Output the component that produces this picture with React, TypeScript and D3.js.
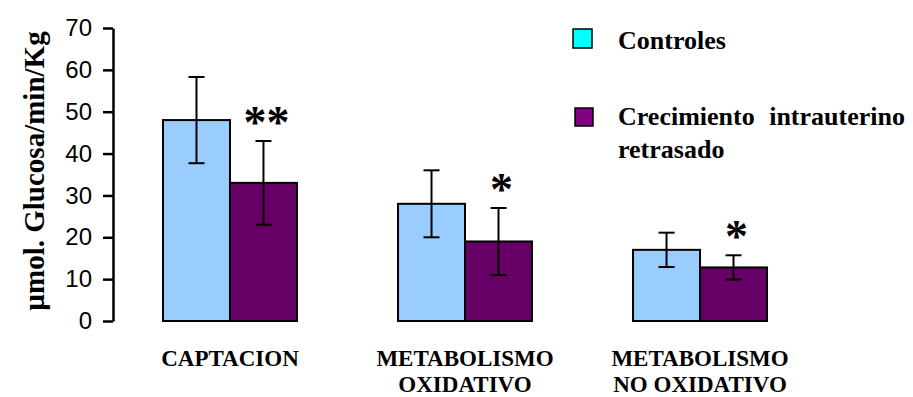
import React, { useEffect, useRef } from 'react';
import * as d3 from 'd3';

// datos
const categorias = ['CAPTACION', 'METABOLISMO OXIDATIVO', 'METABOLISMO NO OXIDATIVO'];
const etiquetas = [['CAPTACION'], ['METABOLISMO', 'OXIDATIVO'], ['METABOLISMO', 'NO OXIDATIVO']];
const series = ['Controles', 'Crecimiento intrauterino retrasado'];
const controles = [48, 28, 17];
const controlesErr = [10.3, 8, 4.1];
const retrasado = [33, 19, 12.8];
const retrasadoErr = [10, 8, 2.9];
const significancia = ['**', '*', '*'];
const yTicks = [0, 10, 20, 30, 40, 50, 60, 70];

const W = 913;
const H = 397;
const serif = 'Liberation Serif, Tinos, DejaVu Serif, serif';
const sans = 'Liberation Sans, Arimo, Arial, sans-serif';

const App = () => {
  const axisRef = useRef<SVGGElement>(null);

  const y = d3.scaleLinear().domain([0, 70]).range([321, 28]);
  const x0 = d3.scaleBand<string>()
    .domain(categorias)
    .range([114, 816])
    .paddingInner(0.43)
    .paddingOuter(0.2085);
  const x1 = d3.scaleBand<string>().domain(series).range([0, x0.bandwidth()]).padding(0);
  const fills = ['#99CCFF', '#660066'];

  useEffect(() => {
    const g = d3.select(axisRef.current);
    g.selectAll('*').remove();
    g.call(d3.axisLeft(y).tickValues(yTicks).tickSize(10).tickSizeOuter(0).tickPadding(11));
    g.select('.domain').attr('stroke', '#000').attr('stroke-width', 2.5);
    g.selectAll('.tick line').attr('stroke', '#000').attr('stroke-width', 2.5);
    g.selectAll('.tick text')
      .attr('font-family', sans)
      .attr('font-size', 24)
      .attr('fill', '#000');
  }, []);

  const valores = [controles, retrasado];
  const errores = [controlesErr, retrasadoErr];

  return (
    <svg width={W} height={H} style={{ position: 'absolute', left: 0, top: 0, background: '#fff' }}>
      <rect x={0} y={0} width={W} height={H} fill="#fff" />
      {/* barras */}
      {categorias.map((c, i) => (
        <g key={c} transform={`translate(${x0(c)},0)`}>
          {series.map((s, j) => {
            const v = valores[j][i];
            const e = errores[j][i];
            const bx = x1(s)!;
            const cx = bx + x1.bandwidth() / 2;
            return (
              <g key={s}>
                <rect x={bx} y={y(v)} width={x1.bandwidth()} height={y(0) - y(v)}
                  fill={fills[j]} stroke="#000" strokeWidth={2} />
                <line x1={cx} x2={cx} y1={y(v + e)} y2={y(v - e)} stroke="#000" strokeWidth={2} />
                <line x1={cx - 8} x2={cx + 8} y1={y(v + e)} y2={y(v + e)} stroke="#000" strokeWidth={2} />
                <line x1={cx - 8} x2={cx + 8} y1={y(v - e)} y2={y(v - e)} stroke="#000" strokeWidth={2} />
                {j === 1 && (
                  <text x={cx + 3} y={y(v + e) - 3} textAnchor="middle" fontFamily={serif}
                    fontWeight="bold" fontSize={46}>{significancia[i]}</text>
                )}
              </g>
            );
          })}
          {etiquetas[i].map((t, k) => (
            <text key={t} x={x0.bandwidth() / 2} y={366 + k * 26} textAnchor="middle"
              fontFamily={serif} fontWeight="bold" fontSize={23}>{t}</text>
          ))}
        </g>
      ))}
      {/* eje y */}
      <g ref={axisRef} transform="translate(113,0)" />
      <text transform="translate(44,171) rotate(-90)" textAnchor="middle" fontFamily={serif}
        fontWeight="bold" fontSize={29}>µmol. Glucosa/min/Kg</text>
      {/* leyenda */}
      <rect x={573} y={29} width={19} height={19} fill="#00FFFF" stroke="#000" strokeWidth={1.5} />
      <text x={618} y={49} fontFamily={serif} fontWeight="bold" fontSize={26}>Controles</text>
      <rect x={575} y={108} width={18} height={18} fill="#800080" stroke="#000" strokeWidth={1.5} />
      <text x={618} y={125} fontFamily={serif} fontWeight="bold" fontSize={26}
        style={{ wordSpacing: '8px' }}>Crecimiento intrauterino</text>
      <text x={618} y={158} fontFamily={serif} fontWeight="bold" fontSize={26}>retrasado</text>
    </svg>
  );
};

export default App;
